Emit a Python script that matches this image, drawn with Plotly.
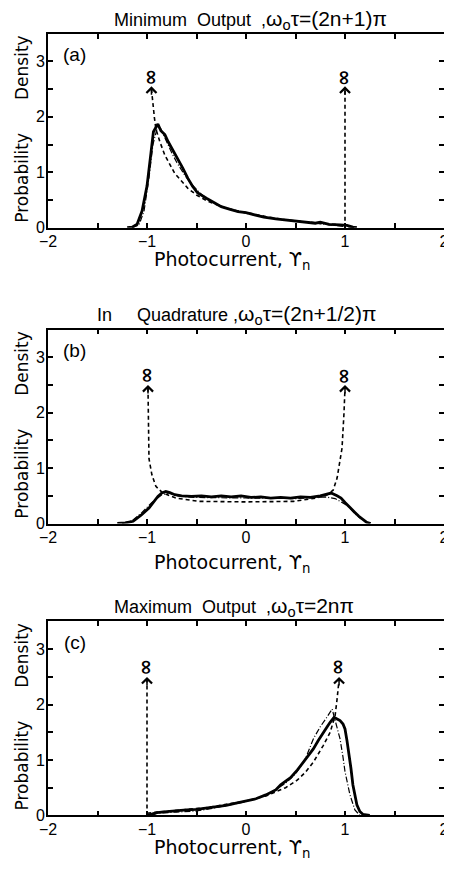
import plotly.graph_objects as go

# ---------------- data ----------------
MATH = '<span style="font-size:21px">{}</span>'
titles = ["Minimum  Output  ," + MATH.format("ω<sub>o</sub>τ=(2n+1)π"),
          "In     Quadrature ," + MATH.format("ω<sub>o</sub>τ=(2n+1/2)π"),
          "Maximum  Output  ," + MATH.format("ω<sub>o</sub>τ=2nπ")]
panel_labels = ["(a)", "(b)", "(c)"]
x_title = "Photocurrent, ϒ<sub>n</sub>"
y_title_words = ["Probability", "Density"]

# panel (a): minimum output
a_solid_x = [-1.20, -1.15, -1.10, -1.05, -1.00, -0.985, -0.96, -0.935, -0.91, -0.89, -0.86, -0.82,
             -0.786, -0.74, -0.687, -0.64, -0.587, -0.54, -0.49, -0.45, -0.40, -0.32, -0.25, -0.16,
             -0.08, 0.0, 0.08, 0.18, 0.30, 0.44, 0.55, 0.70, 0.75, 0.84, 0.95, 1.02, 1.08, 1.12]
a_solid_y = [0.0, 0.01, 0.06, 0.30, 0.75, 0.95, 1.35, 1.73, 1.82, 1.87, 1.75, 1.68,
             1.55, 1.40, 1.25, 1.08, 0.89, 0.75, 0.63, 0.58, 0.53, 0.45, 0.38, 0.33,
             0.29, 0.27, 0.23, 0.19, 0.16, 0.13, 0.11, 0.08, 0.10, 0.06, 0.05, 0.04, 0.01, 0.0]
a_dashdot_x = [-1.15, -1.08, -1.03, -0.98, -0.94, -0.90, -0.87, -0.84, -0.80, -0.75, -0.70, -0.62,
               -0.55, -0.45, -0.35, -0.20, 0.0, 0.2, 0.4, 0.6, 0.8, 1.0, 1.1]
a_dashdot_y = [0.0, 0.05, 0.30, 0.90, 1.50, 1.78, 1.82, 1.70, 1.55, 1.35, 1.18, 0.95,
               0.78, 0.60, 0.47, 0.35, 0.26, 0.19, 0.14, 0.10, 0.07, 0.03, 0.0]
a_theory_x = [-0.955, -0.94, -0.925, -0.91, -0.87, -0.82, -0.72, -0.587, -0.5, -0.39, -0.25,
              -0.1, 0.0, 0.2, 0.4, 0.6, 0.8, 0.95, 1.0]
a_theory_y = [2.5, 2.2, 1.98, 1.78, 1.55, 1.31, 0.98, 0.71, 0.59, 0.48, 0.38,
              0.31, 0.27, 0.20, 0.14, 0.10, 0.07, 0.05, 0.04]
a_spike_x = [1.0, 1.0]
a_spike_y = [0.0, 2.5]
a_arrow_x = [-0.955, 1.0]
a_arrow_y = [2.55, 2.55]
a_inf_y = 2.71

# panel (b): in quadrature
b_solid_x = [-1.30, -1.22, -1.14, -1.06, -0.98, -0.93, -0.89, -0.85, -0.81, -0.77, -0.72, -0.65,
             -0.55, -0.45, -0.35, -0.25, -0.15, -0.05, 0.05, 0.15, 0.25, 0.35, 0.45, 0.55,
             0.65, 0.75, 0.86, 0.92, 0.96, 1.00, 1.05, 1.10, 1.14, 1.18, 1.22, 1.26]
b_solid_y = [0.0, 0.01, 0.04, 0.15, 0.28, 0.40, 0.49, 0.55, 0.58, 0.56, 0.52, 0.50,
             0.49, 0.50, 0.48, 0.50, 0.48, 0.50, 0.47, 0.48, 0.46, 0.47, 0.46, 0.48,
             0.47, 0.50, 0.55, 0.50, 0.46, 0.38, 0.28, 0.20, 0.13, 0.07, 0.02, 0.0]
b_dashdot_x = [-1.25, -1.15, -1.05, -0.95, -0.85, -0.78, -0.70, -0.50, 0.0, 0.5, 0.8, 0.9,
               1.0, 1.05, 1.10, 1.15, 1.20, 1.25]
b_dashdot_y = [0.0, 0.05, 0.20, 0.38, 0.52, 0.55, 0.50, 0.47, 0.46, 0.45, 0.48, 0.45,
               0.35, 0.28, 0.18, 0.10, 0.04, 0.0]
b_theory_x = [-0.99, -0.985, -0.98, -0.95, -0.91, -0.84, -0.71, -0.48, 0.0, 0.48, 0.71, 0.82,
              0.88, 0.92, 0.97, 0.99, 1.0]
b_theory_y = [2.45, 1.80, 1.17, 0.875, 0.67, 0.55, 0.46, 0.40, 0.39, 0.40, 0.46, 0.52,
              0.60, 0.82, 1.36, 2.0, 2.45]
b_arrow_x = [-0.99, 1.0]
b_arrow_y = [2.5, 2.5]
b_inf_y = 2.66

# panel (c): maximum output
c_solid_x = [-1.0, -0.95, -0.9, -0.8, -0.7, -0.6, -0.5, -0.4, -0.3, -0.2, -0.1, 0.0, 0.1, 0.2,
             0.3, 0.35, 0.45, 0.52, 0.6, 0.68, 0.73, 0.78, 0.82, 0.85, 0.89, 0.92, 0.95, 0.98,
             1.0, 1.02, 1.04, 1.06, 1.08, 1.10, 1.12, 1.15, 1.18, 1.25]
c_solid_y = [0.0, 0.03, 0.05, 0.07, 0.09, 0.10, 0.11, 0.13, 0.16, 0.18, 0.22, 0.26, 0.30, 0.37,
             0.46, 0.55, 0.68, 0.82, 1.00, 1.20, 1.35, 1.50, 1.60, 1.68, 1.77, 1.74, 1.71, 1.65,
             1.56, 1.35, 1.14, 0.85, 0.55, 0.35, 0.19, 0.07, 0.02, 0.0]
c_dashdot_x = [-0.95, -0.9, -0.7, -0.5, -0.3, 0.0, 0.2, 0.4, 0.5, 0.6, 0.68, 0.75, 0.82, 0.87,
               0.91, 0.95, 0.98, 1.0, 1.05, 1.10, 1.15]
c_dashdot_y = [0.0, 0.04, 0.06, 0.08, 0.14, 0.25, 0.36, 0.58, 0.75, 1.02, 1.38, 1.60, 1.78, 1.92,
               1.65, 1.38, 1.05, 0.79, 0.37, 0.10, 0.0]
c_theory_x = [-1.0, -0.8, -0.6, -0.4, -0.2, 0.0, 0.2, 0.4, 0.52, 0.6, 0.68, 0.78, 0.85, 0.9,
              0.92, 0.94]
c_theory_y = [0.04, 0.07, 0.10, 0.14, 0.20, 0.26, 0.35, 0.50, 0.64, 0.78, 0.96, 1.26, 1.50, 1.80,
              2.10, 2.45]
c_spike_x = [-1.0, -1.0]
c_spike_y = [0.0, 2.45]
c_arrow_x = [-1.0, 0.94]
c_arrow_y = [2.5, 2.5]
c_inf_y = 2.68

# ---------------- layout geometry (figure sits at the page's 8 px body margin) ----------------
W, H = 444, 854
FONT = "Liberation Sans, Arial, sans-serif"
WIDE = "DejaVu Sans, sans-serif"
INK = "black"
ML, MR = 40, 8
PLOT_W = W - ML - MR
panel_bottom_px = [222, 521, 816]
px_per_unit = 56
y_max = 3.5
title_px = [(104, 12), (87, 310), (104, 605)]       # left edge / vertical centre
xtitle_px = [(144, 255), (144, 561), (144, 849)]


def px_to_paper_x(px):
    return (px - ML) / PLOT_W


def px_to_paper_y(py):
    return 1 - py / H


fig = go.Figure()

panels = [
    (a_solid_x, a_solid_y, a_dashdot_x, a_dashdot_y, a_theory_x, a_theory_y,
     (a_spike_x, a_spike_y), a_arrow_x, a_arrow_y, a_inf_y),
    (b_solid_x, b_solid_y, b_dashdot_x, b_dashdot_y, b_theory_x, b_theory_y,
     None, b_arrow_x, b_arrow_y, b_inf_y),
    (c_solid_x, c_solid_y, c_dashdot_x, c_dashdot_y, c_theory_x, c_theory_y,
     (c_spike_x, c_spike_y), c_arrow_x, c_arrow_y, c_inf_y),
]

annotations = []
for i, (sx, sy, dx, dy, tx, ty, spike, arx, ary, infy) in enumerate(panels):
    n = "" if i == 0 else str(i + 1)
    xa, ya = "x" + n, "y" + n
    bottom = panel_bottom_px[i]
    top = bottom - px_per_unit * y_max
    dom = [px_to_paper_y(bottom), px_to_paper_y(top)]

    fig.add_trace(go.Scatter(x=tx, y=ty, mode="lines", xaxis=xa, yaxis=ya,
                             line=dict(color=INK, width=1.6, dash="4px,3px"),
                             showlegend=False, hoverinfo="skip"))
    if spike is not None:
        fig.add_trace(go.Scatter(x=spike[0], y=spike[1], mode="lines", xaxis=xa, yaxis=ya,
                                 line=dict(color=INK, width=1.6, dash="4px,3px"),
                                 showlegend=False, hoverinfo="skip"))
    fig.add_trace(go.Scatter(x=dx, y=dy, mode="lines", xaxis=xa, yaxis=ya,
                             line=dict(color=INK, width=1.2, dash="6px,2px,1px,2px"),
                             showlegend=False, hoverinfo="skip"))
    fig.add_trace(go.Scatter(x=sx, y=sy, mode="lines", xaxis=xa, yaxis=ya,
                             line=dict(color=INK, width=2.8),
                             showlegend=False, hoverinfo="skip"))

    axis_common = dict(showline=True, linecolor=INK, linewidth=1.8, mirror="ticks",
                       ticks="inside", ticklen=5, tickwidth=1.5, tickcolor=INK,
                       tickmode="linear", tick0=0, dtick=1, ticklabelstandoff=-2,
                       minor=dict(ticks="inside", ticklen=5, tickwidth=1.5, tickcolor=INK,
                                  dtick=0.5, tick0=0, showgrid=False),
                       showgrid=False, zeroline=False,
                       tickfont=dict(family=FONT, size=16, color=INK))
    fig.update_layout(**{
        ("xaxis" + n): dict(domain=[0, 1], range=[-2, 2], anchor=ya, **axis_common),
        ("yaxis" + n): dict(domain=dom, range=[0, y_max], anchor=xa, **axis_common),
    })

    # title
    annotations.append(dict(text=titles[i], xref="paper", yref="paper",
                            x=px_to_paper_x(title_px[i][0]), y=px_to_paper_y(title_px[i][1]),
                            showarrow=False, xanchor="left", yanchor="middle",
                            font=dict(family=FONT, size=18, color=INK)))
    # panel label
    annotations.append(dict(text=panel_labels[i], xref=xa, yref=ya, x=-1.73, y=3.12,
                            showarrow=False, xanchor="center", yanchor="middle",
                            font=dict(family=FONT, size=19, color=INK)))
    # x-axis title
    annotations.append(dict(text=x_title, xref="paper", yref="paper",
                            x=px_to_paper_x(xtitle_px[i][0]), y=px_to_paper_y(xtitle_px[i][1]),
                            showarrow=False, xanchor="left", yanchor="middle",
                            font=dict(family=WIDE, size=19, color=INK)))
    # y-axis title (two words)
    for word, yc in zip(y_title_words, [0.9, 2.9]):
        annotations.append(dict(text=word, xref="paper", yref=ya, x=px_to_paper_x(14),
                                y=yc, textangle=-90, showarrow=False, xanchor="center",
                                yanchor="middle", font=dict(family=WIDE, size=17, color=INK)))
    # arrows to infinity
    for ax_, ay_ in zip(arx, ary):
        annotations.append(dict(text="", xref=xa, yref=ya, x=ax_, y=ay_, ax=0, ay=10,
                                showarrow=True, arrowhead=4, arrowsize=1.3, arrowwidth=1.5,
                                arrowcolor=INK, standoff=0))
        annotations.append(dict(text="<b>∞</b>", xref=xa, yref=ya, x=ax_, y=infy,
                                textangle=90, showarrow=False, xanchor="center",
                                yanchor="middle",
                                font=dict(family=WIDE, size=20, color=INK)))

fig.update_layout(width=W, height=H, margin=dict(l=ML, r=MR, t=0, b=0),
                  paper_bgcolor="white", plot_bgcolor="white",
                  annotations=annotations, showlegend=False)

fig.write_html("out.html")
